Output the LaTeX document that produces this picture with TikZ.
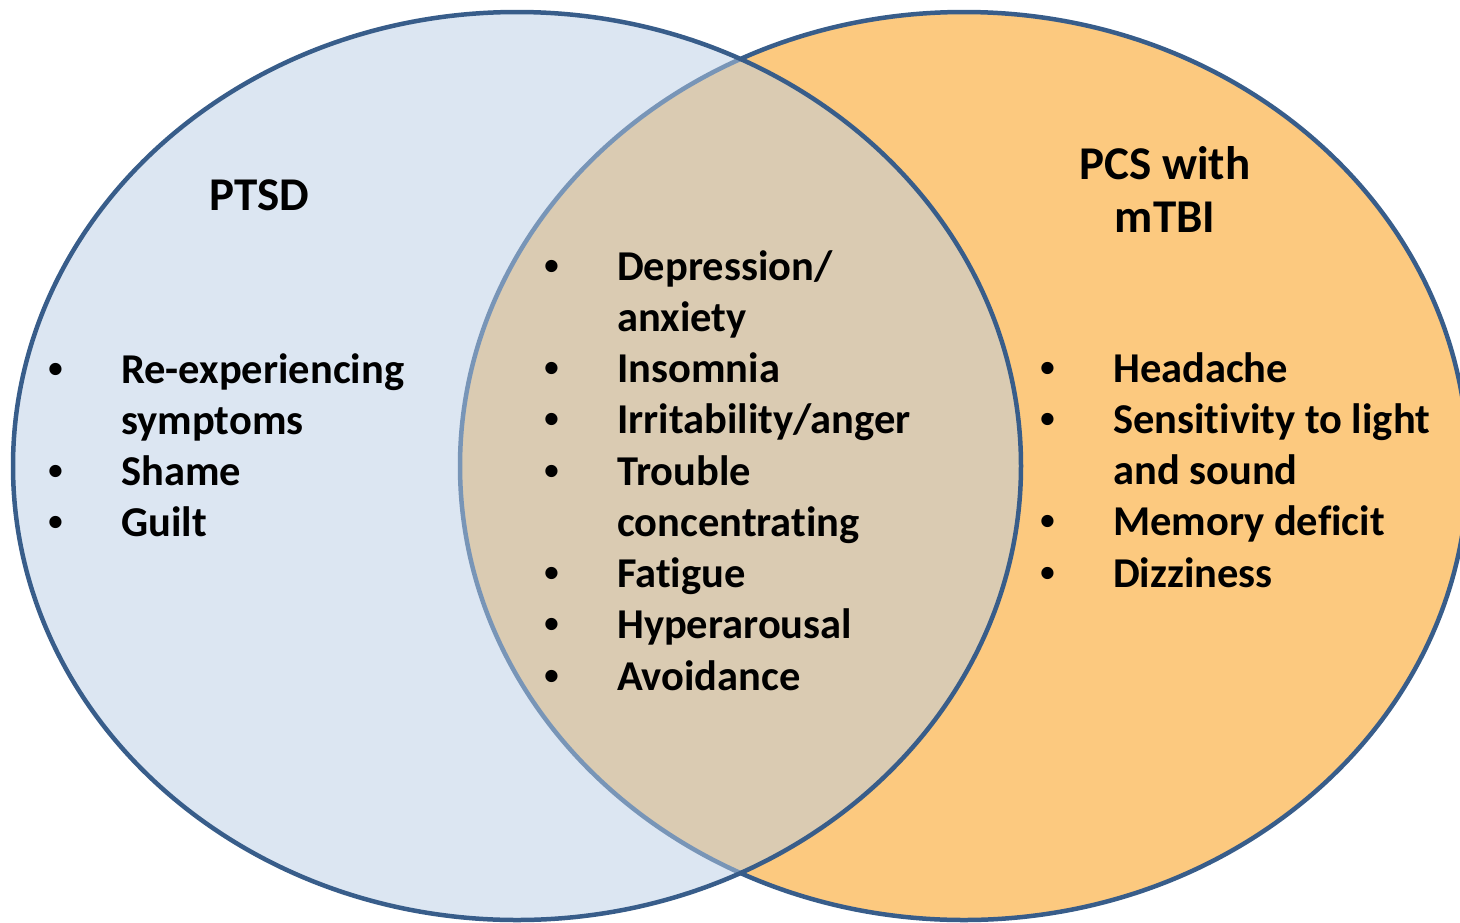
\documentclass[tikz,border=0pt]{standalone}
\usepackage{fontspec}
\setmainfont{Carlito}[Ligatures=NoCommon]
\newfontfamily\bulfont{Liberation Sans}
\newcommand{\bul}{\makebox[0pt]{\bulfont •}}
\definecolor{outl}{RGB}{56,93,138}
\definecolor{bluef}{RGB}{185,205,229}
\definecolor{orangef}{RGB}{252,201,127}
\begin{document}
\begin{tikzpicture}[x=1pt,y=-1pt,
  ring/.style={draw=outl, line width=4.5pt},
  title/.style={font=\fontsize{47}{53}\selectfont\bfseries, inner sep=0pt, anchor=base, align=center},
  list/.style={font=\fontsize{42.5}{51.25}\selectfont\bfseries, inner sep=0pt, anchor=base west}]
\useasboundingbox (0,0) rectangle (1460,922);
\path[ring, fill=orangef] (964,466) ellipse [x radius=504, y radius=454];
\path[fill=bluef, fill opacity=0.5] (517,466) ellipse [x radius=504, y radius=454];
\draw[ring] (517,466) ellipse [x radius=504, y radius=454];
\node[title] (ptsd) at (259,210) {PTSD};
\node[title] (pcs) at (1165,232) {PCS with\\mTBI};
\node[list] (left) at (56,383) {\begin{tabular}[t]{@{}p{65pt}@{}l@{}}\bul&Re-experiencing\\&symptoms\\\bul&Shame\\\bul&Guilt\end{tabular}};
\node[list] (mid) at (552,280) {\begin{tabular}[t]{@{}p{65pt}@{}l@{}}\bul&Depression/\\&anxiety\\\bul&Insomnia\\\bul&Irritability/anger\\\bul&Trouble\\&concentrating\\\bul&Fatigue\\\bul&Hyperarousal\\\bul&Avoidance\end{tabular}};
\node[list] (right) at (1048,382) {\begin{tabular}[t]{@{}p{65pt}@{}l@{}}\bul&Headache\\\bul&Sensitivity to light\\&and sound\\\bul&Memory deficit\\\bul&Dizziness\end{tabular}};
\end{tikzpicture}
\end{document}
